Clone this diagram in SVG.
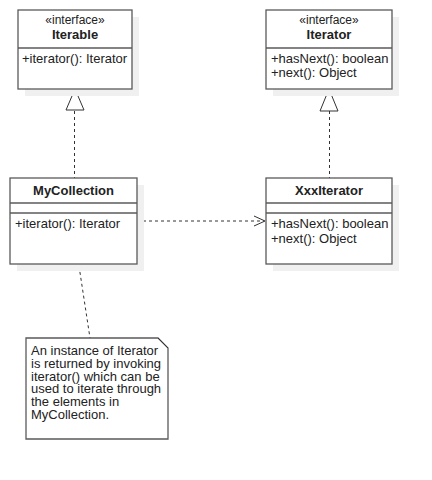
<svg xmlns="http://www.w3.org/2000/svg" width="432" height="480" viewBox="0 0 432 480">
<style>
text{font-family:"Liberation Sans",Arial,sans-serif;font-size:13px;fill:#222}
.b{font-weight:bold;text-anchor:middle}
.s{text-anchor:middle;font-size:12px}
.box{fill:#fff;stroke:#5a5a5a;stroke-width:1.3}
.sh{fill:#f0f0f0}
.sep{stroke:#5a5a5a;stroke-width:1.3}
.dash{fill:none;stroke:#333;stroke-width:1;stroke-dasharray:3,3}
.tri{fill:#fff;stroke:#333;stroke-width:1}
</style>
<rect width="432" height="480" fill="#fff"/>
<g id="connectors">
<line class="dash" x1="74.5" y1="111" x2="74.5" y2="178"/>
<polygon class="tri" points="75,89 66,110 84,110"/>
<line class="dash" x1="329.5" y1="111" x2="329.5" y2="178"/>
<polygon class="tri" points="329,89 320,111 338,111"/>
<line class="dash" x1="137" y1="221" x2="264" y2="221"/>
<polyline fill="none" stroke="#333" stroke-width="1" points="254,216 265,221 254,226"/>
<line class="dash" x1="79" y1="266" x2="90" y2="338"/>
</g>
<g id="Iterable">
<rect class="sh" x="25" y="17" width="114" height="79"/>
<rect class="box" x="18" y="10" width="114" height="79"/>
<line class="sep" x1="18" y1="48" x2="132" y2="48"/>
<text class="s" x="75" y="24">«interface»</text>
<text class="b" x="75" y="39">Iterable</text>
<text x="22" y="63">+iterator(): Iterator</text>
</g>
<g id="Iterator">
<rect class="sh" x="273" y="17" width="126" height="79"/>
<rect class="box" x="266" y="10" width="126" height="79"/>
<line class="sep" x1="266" y1="48" x2="392" y2="48"/>
<text class="s" x="329" y="24">«interface»</text>
<text class="b" x="329" y="39">Iterator</text>
<text x="271" y="63">+hasNext(): boolean</text>
<text x="271" y="77">+next(): Object</text>
</g>
<g id="MyCollection">
<rect class="sh" x="17" y="185" width="127" height="86"/>
<rect class="box" x="10" y="178" width="127" height="86"/>
<line class="sep" x1="10" y1="203" x2="137" y2="203"/>
<line class="sep" x1="10" y1="213" x2="137" y2="213"/>
<text class="b" x="73.5" y="195">MyCollection</text>
<text x="15" y="228">+iterator(): Iterator</text>
</g>
<g id="XxxIterator">
<rect class="sh" x="273" y="185" width="126" height="86"/>
<rect class="box" x="266" y="178" width="126" height="86"/>
<line class="sep" x1="266" y1="203" x2="392" y2="203"/>
<line class="sep" x1="266" y1="213" x2="392" y2="213"/>
<text class="b" x="329" y="195">XxxIterator</text>
<text x="271" y="228">+hasNext(): boolean</text>
<text x="271" y="243">+next(): Object</text>
</g>
<g id="note">
<path class="box" d="M26,338 H158 L168,348 V439 H26 Z"/>
<line x1="158" y1="338" x2="168" y2="348" stroke="#333" stroke-width="1"/>
<text x="31" y="355">An instance of Iterator</text>
<text x="31" y="368">is returned by invoking</text>
<text x="31" y="381">iterator() which can be</text>
<text x="31" y="393">used to iterate through</text>
<text x="31" y="406">the elements in</text>
<text x="31" y="419">MyCollection.</text>
</g>
</svg>
